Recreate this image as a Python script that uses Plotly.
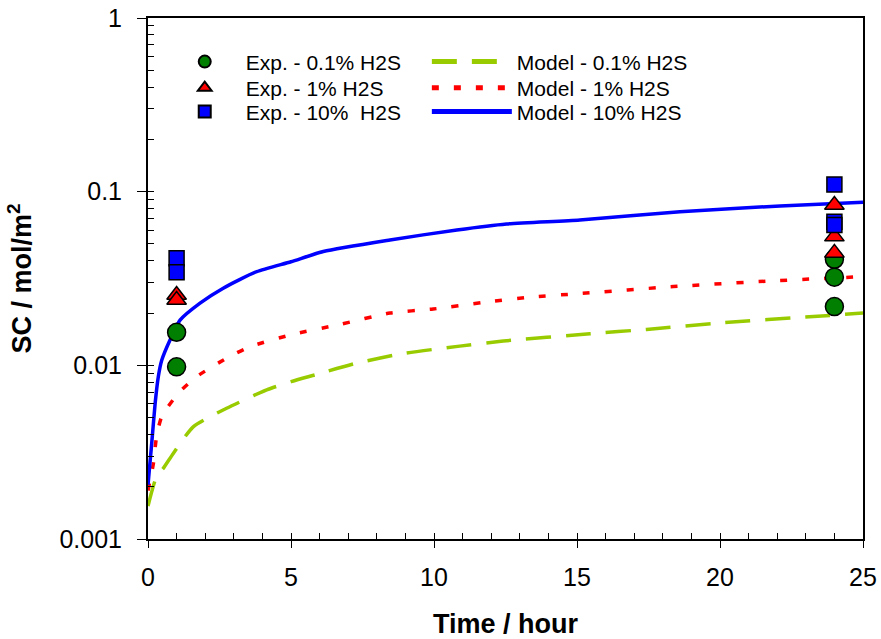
import plotly.graph_objects as go

# Model curves: sulfide coverage SC (mol/m2) vs exposure time (hours)
t_model_10 = [0, 0.13, 0.25, 0.36, 0.48, 0.77, 1.12, 1.82, 2.63, 3.8, 5.0, 6.13,
              8.46, 10.8, 12.54, 15.1, 18.6, 22.1, 25]
sc_model_10 = [0.00205, 0.00356, 0.00605, 0.0086, 0.0107, 0.0140, 0.0182, 0.0228,
               0.0278, 0.0346, 0.0395, 0.0452, 0.0527, 0.0602, 0.0652, 0.0687,
               0.0767, 0.0827, 0.0869]

t_model_1 = [0, 0.19, 0.30, 0.48, 1.06, 1.70, 2.75, 3.57, 5.0, 6.71, 8.46, 9.97,
             11.72, 13.36, 15.1, 18.37, 21.75, 25]
sc_model_1 = [0.0019, 0.00273, 0.0039, 0.00507, 0.0069, 0.0086, 0.0110, 0.0128,
              0.0150, 0.0172, 0.0200, 0.0211, 0.0230, 0.0247, 0.0259, 0.0284,
              0.0306, 0.0324]

t_model_01 = [0, 0.30, 0.54, 0.89, 1.59, 2.75, 4.15, 5.0, 5.84, 7.30, 8.93, 10.9,
              12.42, 15.45, 17.43, 20.12, 23.27, 25]
sc_model_01 = [0.00155, 0.00229, 0.00256, 0.00312, 0.00444, 0.00566, 0.00722,
               0.00805, 0.00881, 0.0103, 0.0117, 0.0129, 0.0138, 0.0152, 0.0161,
               0.0176, 0.0191, 0.0200]

# Experimental points
t_exp = [1, 1, 24, 24, 24]
sc_exp_01 = [0.0155, 0.0098, 0.0408, 0.0322, 0.0218]
sc_exp_1 = [0.0254, 0.0238, 0.0838, 0.0551, 0.0444]
sc_exp_10 = [0.0413, 0.0343, 0.110, 0.0672, 0.0643]

y_tick_vals = [0.001, 0.01, 0.1, 1]
y_tick_text = ["0.001", "0.01", "0.1", "1"]
x_tick_vals = [0, 5, 10, 15, 20, 25]

FONT = "Liberation Sans, Arial, sans-serif"

fig = go.Figure()

# model lines (drawn first so markers sit on top)
fig.add_trace(go.Scatter(x=t_model_01, y=sc_model_01, mode="lines",
                         name="Model - 0.1% H2S", legend="legend4",
                         line=dict(color="#99CC00", width=3.5, dash="25px,15px",
                                   shape="spline", smoothing=0.6)))
fig.add_trace(go.Scatter(x=t_model_1, y=sc_model_1, mode="lines",
                         name="Model - 1% H2S", legend="legend5",
                         line=dict(color="#FF0000", width=3.5, dash="7px,15px",
                                   shape="spline", smoothing=0.6)))
fig.add_trace(go.Scatter(x=t_model_10, y=sc_model_10, mode="lines",
                         name="Model - 10% H2S", legend="legend6",
                         line=dict(color="#0000FF", width=3.5,
                                   shape="spline", smoothing=0.6)))

# experimental markers
fig.add_trace(go.Scatter(x=t_exp, y=sc_exp_01, mode="markers",
                         name="Exp. - 0.1% H2S", legend="legend",
                         marker=dict(symbol="circle", size=18, color="#007F00",
                                     line=dict(color="black", width=1.5))))
fig.add_trace(go.Scatter(x=t_exp, y=sc_exp_1, mode="markers",
                         name="Exp. - 1% H2S", legend="legend2",
                         marker=dict(symbol="triangle-up", size=17, color="#FF0000",
                                     line=dict(color="black", width=1.5))))
fig.add_trace(go.Scatter(x=t_exp, y=sc_exp_10, mode="markers",
                         name="Exp. - 10%  H2S", legend="legend3",
                         marker=dict(symbol="square", size=15, color="#0000FF",
                                     line=dict(color="black", width=1.5))))

# overlay axes carrying the inward minor ticks
fig.add_trace(go.Scatter(x=[0], y=[0.001], xaxis="x2", yaxis="y2", mode="markers",
                         marker=dict(opacity=0), showlegend=False, hoverinfo="skip"))

legend_common = dict(font=dict(family=FONT, size=21, color="black"),
                     bgcolor="rgba(0,0,0,0)", tracegroupgap=0,
                     itemsizing="constant", xanchor="left", yanchor="top")
row_y = [0.955, 0.905, 0.859]
exp_x, model_x = 0.022, 0.390

fig.update_layout(
    width=881, height=639,
    margin=dict(l=148, r=18, t=18, b=100),
    paper_bgcolor="white", plot_bgcolor="white",
    font=dict(family=FONT, size=25, color="black"),
    showlegend=True,
    legend=dict(x=exp_x, y=row_y[0], itemwidth=72, **legend_common),
    legend2=dict(x=exp_x, y=row_y[1], itemwidth=72, **legend_common),
    legend3=dict(x=exp_x, y=row_y[2], itemwidth=72, **legend_common),
    legend4=dict(x=model_x, y=row_y[0], itemwidth=80, **legend_common),
    legend5=dict(x=model_x, y=row_y[1], itemwidth=80, **legend_common),
    legend6=dict(x=model_x, y=row_y[2], itemwidth=80, **legend_common),
    xaxis=dict(range=[0, 25], tickvals=x_tick_vals, ticks="outside", ticklen=7,
               tickwidth=1.2, tickcolor="black", showline=True, linecolor="black",
               linewidth=2, mirror=True, showgrid=False, zeroline=False,
               automargin=False, ticklabelstandoff=8, tickfont=dict(size=25),
               title=dict(text="Time / hour", font=dict(size=27, weight="bold"),
                          standoff=30)),
    yaxis=dict(type="log", range=[-3, 0], tickvals=y_tick_vals, ticktext=y_tick_text,
               ticks="outside", ticklen=9, tickwidth=1.2, tickcolor="black",
               showline=True, linecolor="black", linewidth=2, mirror=True,
               showgrid=False, zeroline=False, automargin=False,
               ticklabelstandoff=10, tickfont=dict(size=25),
               title=dict(text="SC / mol/m<sup>2</sup>",
                          font=dict(size=27, weight="bold"), standoff=20)),
    xaxis2=dict(range=[0, 25], overlaying="x", dtick=1, tick0=0, ticks="inside",
                ticklen=6, tickwidth=1, tickcolor="black", showticklabels=False,
                showgrid=False, zeroline=False, showline=False, automargin=False),
    yaxis2=dict(type="log", range=[-3, 0], overlaying="y", ticks="inside",
                ticklen=6, tickwidth=1, tickcolor="black", showticklabels=False,
                showgrid=False, zeroline=False, showline=False, automargin=False,
                tickvals=[m * 10 ** e for e in (-3, -2, -1) for m in range(1, 10)] + [1]),
)

fig.write_html("out.html")
